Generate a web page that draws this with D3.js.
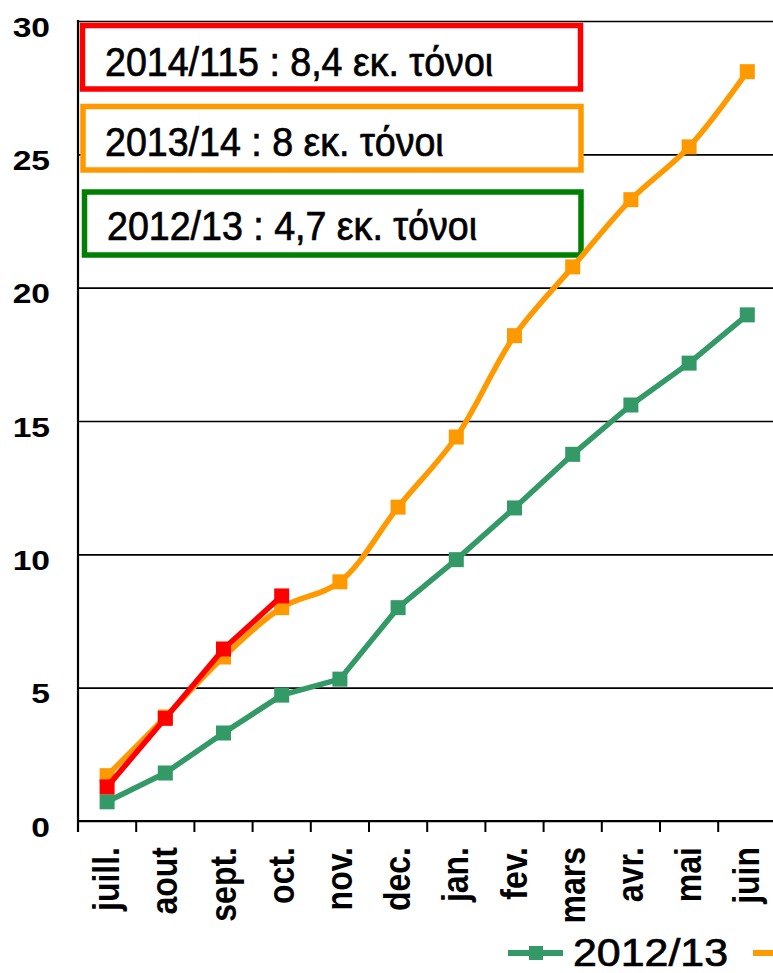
<!DOCTYPE html>
<html>
<head>
<meta charset="utf-8">
<script src="https://cdn.jsdelivr.net/npm/d3@7"></script>
<style>
    body { margin: 0; background: #fff; }
    svg { display: block; font-family: 'Liberation Sans', Arial, sans-serif; }
    .grid line { stroke: #000; stroke-width: 1.6; }
    .axis-label { font-weight: bold; fill: #000; }
    .heavy { stroke: #000; stroke-width: 0.7; }
</style>
</head>
<body>
<div id="chart"></div>
<script>
// months of the marketing year (July -> June)
const months = ['juill.', 'aout', 'sept.', 'oct.', 'nov.', 'dec.', 'jan.', 'fev.', 'mars', 'avr.', 'mai', 'juin'];

// cumulative volumes, million tonnes
const values2012 = [0.72, 1.8, 3.3, 4.72, 5.32, 8.0, 9.8, 11.74, 13.75, 15.6, 17.17, 18.98];
const values2013 = [1.7, 3.9, 6.15, 8.0, 8.97, 11.77, 14.4, 18.2, 20.78, 23.3, 25.28, 28.1];
const values2014 = [1.28, 3.85, 6.45, 8.44];

const yTicks = [0, 5, 10, 15, 20, 25, 30];
const seriesNames = ['2012/13', '2013/14', '2014/15'];
const boxLabels = ['2014/115 : 8,4 εκ. τόνοι', '2013/14 : 8 εκ. τόνοι', '2012/13 : 4,7 εκ. τόνοι'];

class LineChart {
    constructor(_config) {
        this.config = {
            parentElement: _config.parentElement,
            containerWidth: _config.containerWidth || 773,
            containerHeight: _config.containerHeight || 973,
            margin: _config.margin || {top: 21, left: 78, bottom: 152, plotWidth: 698.4}
        };
        this.series = [
            {name: seriesNames[0], values: values2012, color: '#339966', curve: d3.curveLinear},
            {name: seriesNames[1], values: values2013, color: '#ff9900', curve: d3.curveCatmullRom},
            {name: seriesNames[2], values: values2014, color: '#ff0000', curve: d3.curveLinear}
        ];
        this.initVis();
        this.renderVis();
    }

    initVis() {
        let vis = this;
        const m = vis.config.margin;
        vis.height = vis.config.containerHeight - m.top - m.bottom;

        vis.svg = d3.select(vis.config.parentElement)
            .append('svg')
            .attr('width', vis.config.containerWidth)
            .attr('height', vis.config.containerHeight);

        vis.xScale = d3.scaleBand()
            .domain(months)
            .range([m.left, m.left + m.plotWidth]);

        vis.yScale = d3.scaleLinear()
            .domain([0, 30])
            .range([m.top + vis.height, m.top]);

        // horizontal gridlines, run off the right edge like the original
        vis.yAxis = d3.axisLeft(vis.yScale)
            .tickValues(yTicks)
            .tickSize(-(vis.config.containerWidth - m.left))
            .tickFormat(d => d);

        vis.yAxisG = vis.svg.append('g')
            .attr('class', 'grid')
            .attr('transform', `translate(${m.left},0)`);
    }

    renderVis() {
        let vis = this;
        const m = vis.config.margin;
        const y0 = vis.yScale(0);

        vis.yAxisG.call(vis.yAxis)
            .call(g => g.select('.domain').remove());
        vis.yAxisG.selectAll('.tick text')
            .attr('class', 'axis-label')
            .attr('x', 0)
            .attr('y', 15)
            .attr('dy', null)
            .attr('text-anchor', 'end')
            .attr('transform', `translate(${50 - m.left},0) scale(1.2,1)`)
            .style('font-size', '28px');

        // axis lines
        vis.svg.append('line')
            .attr('x1', m.left).attr('x2', m.left)
            .attr('y1', m.top - 1).attr('y2', y0 + 11)
            .attr('stroke', '#000').attr('stroke-width', 2.2);
        vis.svg.append('line')
            .attr('x1', m.left).attr('x2', vis.config.containerWidth)
            .attr('y1', y0).attr('y2', y0)
            .attr('stroke', '#000').attr('stroke-width', 2.2);

        // category boundary ticks
        vis.svg.append('g').selectAll('line')
            .data(months)
            .join('line')
            .attr('x1', d => vis.xScale(d)).attr('x2', d => vis.xScale(d))
            .attr('y1', y0).attr('y2', y0 + 11)
            .attr('stroke', '#000').attr('stroke-width', 2);

        // rotated month labels
        vis.svg.append('g').selectAll('text')
            .data(months)
            .join('text')
            .attr('class', 'axis-label')
            .attr('text-anchor', 'end')
            .attr('transform', d => `translate(${vis.xScale(d) + vis.xScale.bandwidth() / 2 + 12},847) rotate(-90) scale(1,1.17)`)
            .style('font-size', '32px')
            .text(d => d);

        // annotation boxes
        const boxes = [
            {x: 82.5, y: 25.5, w: 498, h: 63.5, color: '#ff0000', tx: 105, ty: 76},
            {x: 83, y: 106.5, w: 498, h: 63.5, color: '#ff9900', tx: 105, ty: 156},
            {x: 84.5, y: 192, w: 496.5, h: 63, color: '#008000', tx: 107, ty: 240}
        ];
        const boxG = vis.svg.append('g').selectAll('g')
            .data(boxes)
            .join('g');
        boxG.append('rect')
            .attr('x', d => d.x).attr('y', d => d.y)
            .attr('width', d => d.w).attr('height', d => d.h)
            .attr('fill', '#fff')
            .attr('stroke', d => d.color)
            .attr('stroke-width', 5.5);
        boxG.append('text')
            .attr('class', 'heavy')
            .attr('transform', d => `translate(${d.tx},${d.ty}) scale(0.94,1)`)
            .style('font-size', '40px')
            .text((d, i) => boxLabels[i]);

        // series lines + square markers
        const cx = (d, i) => vis.xScale(months[i]) + vis.xScale.bandwidth() / 2;
        vis.series.forEach(s => {
            const line = d3.line()
                .x(cx)
                .y(d => vis.yScale(d))
                .curve(s.curve);
            vis.svg.append('path')
                .datum(s.values)
                .attr('d', line)
                .attr('fill', 'none')
                .attr('stroke', s.color)
                .attr('stroke-width', 5.5)
                .attr('stroke-linejoin', 'round');
            vis.svg.append('g').selectAll('rect')
                .data(s.values)
                .join('rect')
                .attr('x', (d, i) => cx(d, i) - 7.5)
                .attr('y', d => vis.yScale(d) - 7.5)
                .attr('width', 15).attr('height', 15)
                .attr('fill', s.color);
        });

        // legend (runs off the right edge)
        const legend = vis.svg.append('g').selectAll('g')
            .data(vis.series)
            .join('g')
            .attr('transform', (d, i) => `translate(${508 + i * 245},953)`);
        legend.append('line')
            .attr('x1', 0).attr('x2', 55)
            .attr('stroke', d => d.color).attr('stroke-width', 6);
        legend.append('rect')
            .attr('x', 21).attr('y', -7)
            .attr('width', 14).attr('height', 14)
            .attr('fill', d => d.color);
        legend.append('text')
            .attr('class', 'heavy')
            .attr('transform', 'translate(65,13) scale(1.1,1)')
            .style('font-size', '39px')
            .text(d => d.name);
    }
}

new LineChart({parentElement: '#chart'});
</script>
</body>
</html>
